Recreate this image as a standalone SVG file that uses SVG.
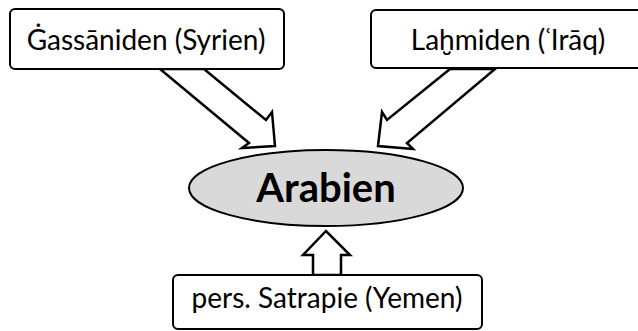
<svg xmlns="http://www.w3.org/2000/svg" width="638" height="331" viewBox="0 0 638 331">
<style>
.box{fill:#fff;stroke:#000;stroke-width:2}
.arr{fill:#fff;stroke:#000;stroke-width:2.5;stroke-linejoin:miter}
.t{font-family:Lato,"Open Sans",sans-serif;font-size:28px;fill:#000;text-anchor:middle}
.b{font-family:Lato,"Open Sans",sans-serif;font-size:40px;font-weight:bold;fill:#000;text-anchor:middle}
</style>
<rect width="638" height="331" fill="#fff"/>
<g id="connectors">
<polygon class="arr" points="160,69 249,143 242,148 275,146 272,112 266,120 204,69"/>
<polygon class="arr" points="450,69 387,120 382,112 378,146 413,149 407,143 495,69"/>
<polygon class="arr" points="313,275 313,255 303,255 326,231 350,255 341,255 341,275"/>
</g>
<g id="ghassaniden">
<rect class="box" x="10" y="9" width="274" height="60" rx="5"/>
<text class="t" x="146" y="50">Ġassāniden (Syrien)</text>
</g>
<g id="lahmiden">
<rect class="box" x="371" y="10" width="280" height="58" rx="5"/>
<text class="t" x="508" y="50">Laḫmiden (ʿIrāq)</text>
</g>
<g id="arabien">
<ellipse cx="326" cy="188" rx="137" ry="38" fill="#d9d9d9" stroke="#000" stroke-width="2"/>
<text class="b" x="326" y="202">Arabien</text>
</g>
<g id="satrapie">
<rect class="box" x="173" y="275" width="309" height="54" rx="5"/>
<text class="t" x="327" y="308">pers. Satrapie (Yemen)</text>
</g>
</svg>
